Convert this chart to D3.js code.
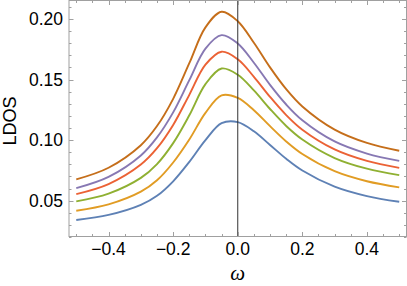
<!DOCTYPE html>
<html lang="en">
<head>
    <meta charset="UTF-8">
    <script src="https://d3js.org/d3.v7.min.js"></script>
    <title>LDOS</title>
    <style>
        body { margin: 0; background: #fff; }
        svg { display: block; }
    </style>
</head>
<body>
    <div id="container"></div>
</body>
    <script>
        // ω grid and the six curves
        var omega = [-0.5, -0.4, -0.3, -0.25, -0.2, -0.15, -0.1, -0.05, 0, 0.05, 0.1, 0.15, 0.2, 0.3, 0.4, 0.5];
        var blue   = [0.0340, 0.0382, 0.0465, 0.0540, 0.0660, 0.0820, 0.1000, 0.1140, 0.1149, 0.1073, 0.0960, 0.0846, 0.0749, 0.0616, 0.0538, 0.0491];
        var yellow = [0.0417, 0.0469, 0.0574, 0.0668, 0.0815, 0.1005, 0.1225, 0.1370, 0.1349, 0.1247, 0.1115, 0.0989, 0.0885, 0.0743, 0.0660, 0.0610];
        var green  = [0.0494, 0.0558, 0.0688, 0.0802, 0.0975, 0.1205, 0.1462, 0.1591, 0.1540, 0.1410, 0.1257, 0.1117, 0.1005, 0.0852, 0.0764, 0.0711];
        var red    = [0.0554, 0.0637, 0.0798, 0.0933, 0.1125, 0.1374, 0.1623, 0.1730, 0.1668, 0.1523, 0.1357, 0.1207, 0.1086, 0.0923, 0.0828, 0.0771];
        var purple = [0.0603, 0.0696, 0.0873, 0.1022, 0.1229, 0.1495, 0.1756, 0.1867, 0.1798, 0.1639, 0.1456, 0.1294, 0.1164, 0.0989, 0.0889, 0.0829];
        var brown  = [0.0676, 0.0772, 0.0958, 0.1116, 0.1341, 0.1635, 0.1931, 0.2060, 0.1982, 0.1804, 0.1601, 0.1421, 0.1278, 0.1087, 0.0977, 0.0912];

        var seriesList = [blue, yellow, green, red, purple, brown];
        var colors = ["#5e81b5", "#e19c24", "#8fb032", "#eb6235", "#8778b3", "#c56e1a"];

        var xMajor = [-0.4, -0.2, 0, 0.2, 0.4];
        var xLabels = ["\u22120.4", "\u22120.2", "0.0", "0.2", "0.4"];
        var xMinor = d3.range(-10, 11).map(i => i * 0.05);
        var yMajor = [0.05, 0.10, 0.15, 0.20];
        var yLabels = ["0.05", "0.10", "0.15", "0.20"];
        var yMinor = d3.range(2, 22).map(i => i * 0.01);

        var width = 407, height = 286;
        var box = {left: 69, right: 406.5, top: 0.5, bottom: 236.5};

        var x = d3.scaleLinear().domain([-0.5225, 0.5225]).range([box.left, box.right]);
        var y = d3.scaleLinear().domain([0.0204, 0.2153]).range([box.bottom, box.top]);

        var svg = d3.select("#container").append("svg")
            .attr("width", width).attr("height", height);

        // curves
        var line = d3.line()
            .x((d, i) => x(omega[i]))
            .y(d => y(d))
            .curve(d3.curveCatmullRom.alpha(0.5));

        svg.append("g")
            .attr("fill", "none")
            .attr("stroke-width", 1.9)
            .selectAll("path")
            .data(seriesList)
            .join("path")
            .attr("stroke", (d, i) => colors[i])
            .attr("d", line);

        // vertical line at ω = 0
        svg.append("line")
            .attr("x1", x(0)).attr("x2", x(0))
            .attr("y1", box.top).attr("y2", box.bottom)
            .attr("stroke", "#333").attr("stroke-width", 1);

        // frame + ticks
        var frameColor = "#a0a0a0";
        var frame = svg.append("g").attr("stroke", frameColor).attr("stroke-width", 1);
        frame.append("rect")
            .attr("x", box.left).attr("y", box.top)
            .attr("width", box.right - box.left).attr("height", box.bottom - box.top)
            .attr("fill", "none");

        var isMajor = (v, list) => list.some(m => Math.abs(m - v) < 1e-9);
        xMinor.forEach(v => {
            var len = isMajor(v, xMajor) ? 4.5 : 2.5;
            var px = Math.round(x(v)) + 0.5;
            frame.append("line").attr("x1", px).attr("x2", px).attr("y1", box.bottom).attr("y2", box.bottom - len);
            frame.append("line").attr("x1", px).attr("x2", px).attr("y1", box.top).attr("y2", box.top + len);
        });
        yMinor.forEach(v => {
            var len = isMajor(v, yMajor) ? 4.5 : 2.5;
            var py = Math.round(y(v)) + 0.5;
            frame.append("line").attr("x1", box.left).attr("x2", box.left + len).attr("y1", py).attr("y2", py);
            frame.append("line").attr("x1", box.right).attr("x2", box.right - len).attr("y1", py).attr("y2", py);
        });

        // tick labels
        var labels = svg.append("g")
            .attr("font-family", "'Liberation Sans', Arial, sans-serif")
            .attr("font-size", 17.5)
            .attr("fill", "#000");

        labels.selectAll(".xl")
            .data(xMajor)
            .join("text")
            .attr("class", "xl")
            .attr("x", d => x(d))
            .attr("y", 255)
            .attr("text-anchor", "middle")
            .text((d, i) => xLabels[i]);

        labels.selectAll(".yl")
            .data(yMajor)
            .join("text")
            .attr("class", "yl")
            .attr("x", 63)
            .attr("y", d => y(d))
            .attr("dy", "0.35em")
            .attr("text-anchor", "end")
            .text((d, i) => yLabels[i]);

        // axis titles
        svg.append("text")
            .attr("transform", "translate(16,121) rotate(-90)")
            .attr("text-anchor", "middle")
            .attr("font-family", "'Liberation Sans', Arial, sans-serif")
            .attr("font-size", 18)
            .text("LDOS");

        svg.append("text")
            .attr("x", x(0))
            .attr("y", 280)
            .attr("text-anchor", "middle")
            .attr("font-family", "'Liberation Serif', serif")
            .attr("font-style", "italic")
            .attr("font-size", 21)
            .text("\u03c9");
    </script>
</html>
